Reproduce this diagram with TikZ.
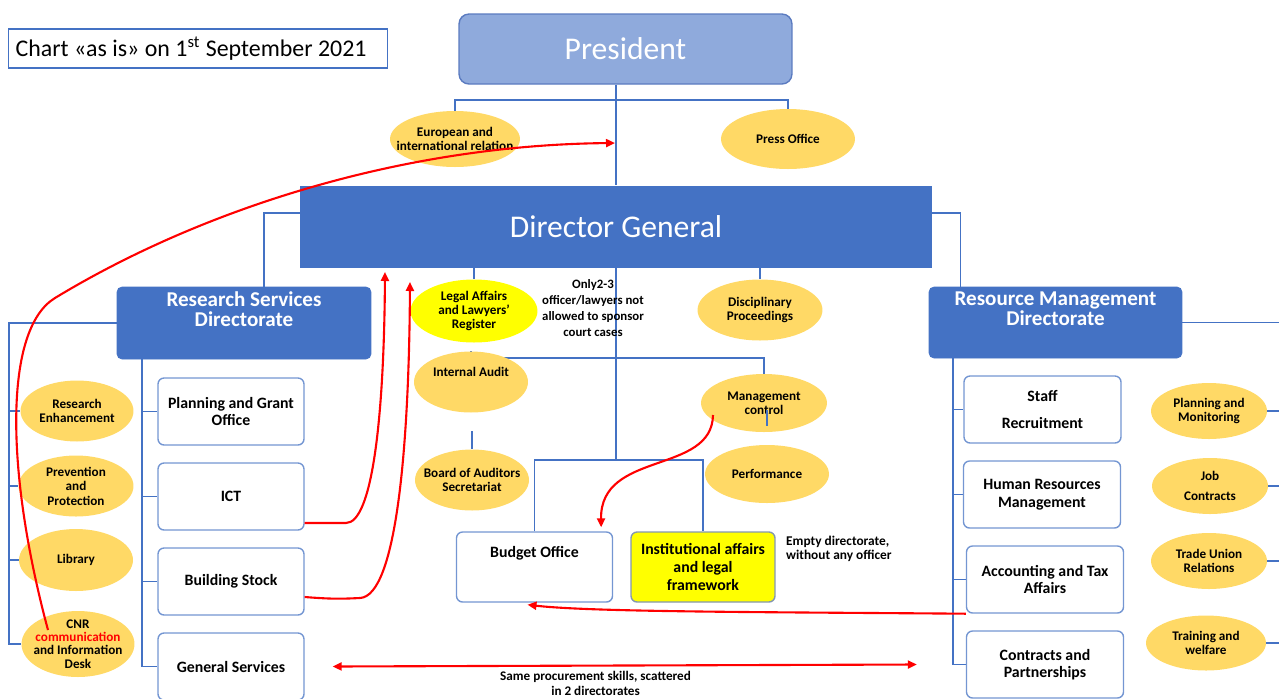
\documentclass[tikz,border=0pt]{standalone}
\usepackage{fontspec}
\setmainfont{Carlito}
\usepackage{xcolor}
\usepackage{tikz}
\usetikzlibrary{arrows.meta,positioning,shapes.geometric,backgrounds}

\definecolor{dgblue}{HTML}{4472C4}
\definecolor{presblue}{HTML}{8FAADC}
\definecolor{presedge}{HTML}{5B7BC0}
\definecolor{boxedge}{HTML}{7496D2}
\definecolor{ovalfill}{HTML}{FFD966}
\definecolor{hilite}{HTML}{FFFF00}
\definecolor{instedge}{HTML}{8497B0}

\begin{document}
\begin{tikzpicture}[
    x=0.02cm, y=-0.02cm,
    >={Triangle[length=1.8mm, width=1.6mm]},
    title/.style={draw=dgblue, line width=0.6pt, minimum width=7.6cm, inner xsep=0pt,
                  minimum height=0.78cm, font=\fontsize{13.6}{16}\selectfont},
    head/.style={draw=presedge, fill=presblue, rounded corners=2mm, line width=0.8pt,
                 minimum width=6.66cm, minimum height=1.4cm, text=white, font=\fontsize{18}{20}\selectfont},
    dgbox/.style={fill=dgblue, minimum width=12.64cm, minimum height=1.64cm, text=white,
                  font=\fontsize{18}{20}\selectfont},
    dirbox/.style={fill=dgblue, draw=dgblue, rounded corners=1mm, minimum width=5.08cm, minimum height=1.44cm,
                   inner ysep=1pt, text depth=16pt, align=center, text=white,
                   font=\fontsize{12}{11.3}\selectfont\bfseries},
    unit/.style={draw=boxedge, fill=white, rounded corners=1.2mm, line width=0.8pt, minimum width=2.92cm,
                 minimum height=1.34cm, align=center, font=\fontsize{9}{10}\selectfont\bfseries},
    oval/.style={ellipse, fill=ovalfill, inner sep=-10pt, minimum width=2.3cm, minimum height=1.22cm,
                 align=center, font=\fontsize{7.5}{8.2}\selectfont\bfseries},
    note/.style={align=center, font=\fontsize{7.3}{9}\selectfont\bfseries},
    conn/.style={draw=dgblue, line width=0.6pt},
    redarrow/.style={draw=red, line width=1.2pt, ->}
]
    \useasboundingbox (0,0) rectangle (1279,698);

    % Top: President and Director General
    \node[title] (chart) at (198,48.5) {\makebox[7.3cm][l]{Chart «as is» on 1\textsuperscript{st} September 2021}};
    \node[head] (pres) at (625.5,49) {President};
    \node[oval, minimum width=2.6cm, minimum height=1.12cm] (eur) at (455,139) {European and\\international relation};
    \node[oval, minimum width=2.68cm, minimum height=1.2cm] (press) at (788,139) {Press Office};
    \node[dgbox] (dg) at (616,226.5) {Director General};

    % Centre: units under the Director General
    \node[oval, fill=hilite, minimum width=2.54cm, minimum height=1.26cm] (legal) at (474,311) {Legal Affairs\\and Lawyers’\\Register};
    \node[note] (onlynote) at (593,308) {Only2-3\\officer/lawyers not\\allowed to sponsor\\court cases};
    \node[oval, minimum width=2.5cm] (disc) at (760,310) {Disciplinary\\Proceedings};
    \node[oval, minimum width=2.28cm, text depth=11pt] (audit) at (471,382) {Internal Audit};
    \node[oval, minimum width=2.28cm] (board) at (472,480) {Board of Auditors\\Secretariat};
    \node[oval, minimum width=2.52cm, minimum height=1.16cm] (mgmt) at (764,403) {Management\\control};
    \node[oval, minimum width=2.48cm, minimum height=1.16cm] (perf) at (767,474) {Performance};
    \node[unit, minimum width=3.12cm, minimum height=1.4cm, text depth=17pt] (budget) at (534.5,567) {Budget Office};
    \node[unit, fill=hilite, draw=instedge, minimum width=2.88cm, minimum height=1.4cm] (inst) at (703,567) {Institutional affairs\\and legal\\framework};
    \node[note, align=left, anchor=west, font=\fontsize{7.6}{8}\selectfont\bfseries] (emptynote) at (780,549) {Empty directorate,\\without any officer};

    % Left: Research Services Directorate
    \node[dirbox] (rsd) at (244,323) {Research Services\\Directorate};
    \node[unit] (plan) at (231,411.5) {Planning and Grant\\Office};
    \node[unit] (ict) at (231,496.5) {ICT};
    \node[unit] (build) at (231,581.5) {Building Stock};
    \node[unit] (gen) at (231,666.5) {General Services};
    \node[oval, minimum width=2.26cm] (resenh) at (77,411) {Research\\Enhancement};
    \node[oval] (prev) at (76,486) {Prevention\\and\\Protection};
    \node[oval, minimum width=2.28cm, minimum height=1.24cm] (lib) at (76,560) {Library};
    \node[oval, minimum width=2.26cm, minimum height=1.32cm, font=\fontsize{7.5}{7.6}\selectfont\bfseries] (cnr) at (78,644)
        {CNR\\\textcolor{red}{communication}\\and Information\\Desk};

    % Right: Resource Management Directorate
    \node[dirbox, minimum width=5.06cm, minimum height=1.42cm] (rmd) at (1055.5,322.5) {Resource Management\\Directorate};
    \node[unit, minimum width=3.14cm] (staff) at (1042.5,409.5) {Staff\\[5pt]Recruitment};
    \node[unit, minimum width=3.14cm] (hr) at (1042,494.5) {Human Resources\\Management};
    \node[unit, minimum width=3.14cm] (acc) at (1045,579.5) {Accounting and Tax\\Affairs};
    \node[unit, minimum width=3.14cm] (contr) at (1045,664.5) {Contracts and\\Partnerships};
    \node[oval, minimum width=2.32cm, minimum height=1.12cm] (pm) at (1209,411) {Planning and\\Monitoring};
    \node[oval, minimum width=2.32cm, minimum height=1.12cm] (job) at (1210,486) {Job\\[3pt]Contracts};
    \node[oval, minimum width=2.32cm, minimum height=1.12cm] (trade) at (1209,561) {Trade Union\\Relations};
    \node[oval, minimum width=2.4cm, minimum height=1.1cm] (train) at (1206,643) {Training and\\welfare};

    % Bus points
    \coordinate (presbar) at (616,100);
    \coordinate (ctrlbar) at (616,358);
    \coordinate (hub) at (616,460);
    \coordinate (lbus) at (9,0);
    \coordinate (rsdbus) at (142,0);
    \coordinate (rmdbus) at (953,0);
    \coordinate (redge) at (1290,0);

    % Organisation lines
    \begin{scope}[on background layer]
        \draw[conn] (dg.north |- pres.south) -- (dg.north);
        \draw[conn] (eur) |- (presbar) -| (press);
        \draw[conn] ([yshift=0.27cm]dg.west) -| ([xshift=0.4cm]rsd.north);
        \draw[conn] ([yshift=0.27cm]dg.east) -| ([xshift=0.64cm]rmd.north west);
        \draw[conn] (legal.north |- dg.south) -- (legal);
        \draw[conn] (disc.north |- dg.south) -- (disc);
        \draw[conn] (dg.south) -- (hub);
        \draw[conn] (budget) |- (hub) -| (inst);
        \draw[conn] (audit) |- (ctrlbar) -| (mgmt);
        \draw[conn] ([yshift=0.36cm]board.north) -- (board);
        \draw[conn] (rsd.west) -| (lbus |- cnr) -- (cnr);
        \foreach \o in {resenh,prev,lib} \draw[conn] (lbus |- \o) -- (\o);
        \draw[conn] (rsd.south -| rsdbus) |- (gen);
        \foreach \u in {plan,ict,build} \draw[conn] (rsdbus |- \u) -- (\u);
        \draw[conn] (rmd.south -| rmdbus) |- (contr);
        \foreach \u in {staff,hr,acc} \draw[conn] (rmdbus |- \u) -- (\u);
        \draw[conn] (rmd) -- (rmd -| redge);
        \foreach \o in {pm,job,trade,train} \draw[conn] (\o) -- (\o -| redge);
    \end{scope}
    \draw[conn] ([xshift=0.06cm,yshift=-0.14cm]mgmt.center) -- ++(0,16);

    % Red remarks
    \coordinate (cnrfoot) at (48,630);
    \coordinate (intltip) at (615,143);
    \coordinate (dgin1) at (385,272);
    \coordinate (dgin2) at (410,282);
    \draw[redarrow] (cnrfoot) .. controls (5,470) and (4,329) .. (55,298)
        .. controls (200,210) and (400,145) .. (intltip);
    \draw[redarrow] ([yshift=-0.53cm]ict.east) -- (346,523) .. controls (372,523) and (384,420) .. (dgin1);
    \draw[redarrow] ([yshift=-0.31cm]build.east) .. controls (330,599) and (340,599) .. (360,598)
        .. controls (396,596) and (409,450) .. (dgin2);
    \draw[redarrow] ([xshift=-1.02cm,yshift=-0.24cm]mgmt.center) .. controls (712,475) and (600,450)
        .. ([xshift=-0.24cm,yshift=0.08cm]budget.north east);
    \draw[redarrow] (acc.south west) .. controls (760,612) and (590,612) .. ([xshift=-0.14cm,yshift=-0.04cm]budget.south);
    \draw[redarrow, <->] ([xshift=0.56cm]gen.east) -- ([xshift=-0.98cm]contr.west)
        node[note, pos=0.45, below=-1pt, font=\fontsize{7.5}{8.6}\selectfont\bfseries] (procnote)
        {Same procurement skills, scattered\\in 2 directorates};
\end{tikzpicture}
\end{document}
